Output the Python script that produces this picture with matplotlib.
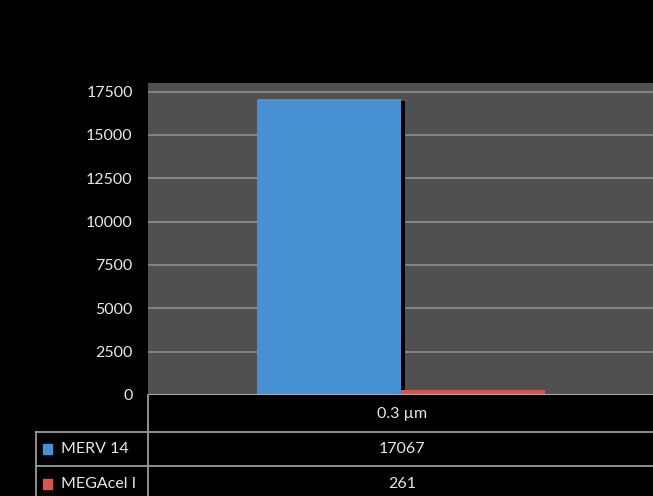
import matplotlib
matplotlib.use("Agg")
import matplotlib.pyplot as plt
import matplotlib.patheffects as pe
from matplotlib.lines import Line2D
from matplotlib.patches import Rectangle

categories = ["0.3 µm"]
series_names = ["MERV 14", "MEGAcel I"]
series_values = [17067, 261]
series_colors = ["#4690d3", "#d9544b"]
yticks = [0, 2500, 5000, 7500, 10000, 12500, 15000, 17500]

W, H = 653, 496
plt.rcParams['font.family'] = ['Lato', 'DejaVu Sans']
fig = plt.figure(figsize=(W / 100, H / 100), dpi=100, facecolor="black")

def fx(px):
    return px / W

def fy(py):
    return 1 - py / H

FS = 11.5
left, right, top, bottom = 148, 653, 83, 395
ax = fig.add_axes([fx(left), fy(bottom), fx(right - left), (bottom - top) / H])
ax.set_facecolor("#505050")
ax.set_xlim(-0.5, 0.5)
ax.set_ylim(0, 18000)
ax.set_yticks(yticks)
ax.set_yticklabels([str(v) for v in yticks], color="#e8e8e8", fontsize=FS)
ax.tick_params(axis="y", length=0, pad=11)
ax.set_xticks([])
ax.grid(axis="y", color="#8e8e8e", linewidth=1.2)
ax.set_axisbelow(True)
for s in ax.spines.values():
    s.set_visible(False)
ax.axhline(0, color="#a8a8a8", linewidth=1.5, zorder=3)

bw = 144 / (right - left)
offsets = [-bw / 2, bw / 2]
for i, (v, c) in enumerate(zip(series_values, series_colors)):
    bars = ax.bar(offsets[i], v, width=bw, color=c, zorder=2)
    if i == 0:
        for b in bars:
            b.set_path_effects([pe.SimplePatchShadow(offset=(3, -1), shadow_rgbFace="black", alpha=1.0), pe.Normal()])

# data table
lc = "#9a9a9a"
lw = 1.3
def hline(py, x0, x1):
    fig.add_artist(Line2D([fx(x0), fx(x1)], [fy(py), fy(py)], color=lc, linewidth=lw))
def vline(px, y0, y1):
    fig.add_artist(Line2D([fx(px), fx(px)], [fy(y0), fy(y1)], color=lc, linewidth=lw))

hline(432, 36, 653)
hline(466, 36, 653)
vline(148, 395, 496)
vline(36, 432, 496)

tc = "#e8e8e8"
fig.text(fx(402), fy(414), categories[0], color=tc, fontsize=FS, ha="center", va="center")
row_y = [449, 484]
for name, v, c, ry in zip(series_names, series_values, series_colors, row_y):
    fig.add_artist(Rectangle((fx(43), fy(ry + 5)), fx(9), 10 / H, color=c, transform=fig.transFigure))
    fig.text(fx(61), fy(ry), name, color=tc, fontsize=FS, ha="left", va="center")
    fig.text(fx(402), fy(ry), str(v), color=tc, fontsize=FS, ha="center", va="center")

fig.savefig("out.png", dpi=100, facecolor="black")
